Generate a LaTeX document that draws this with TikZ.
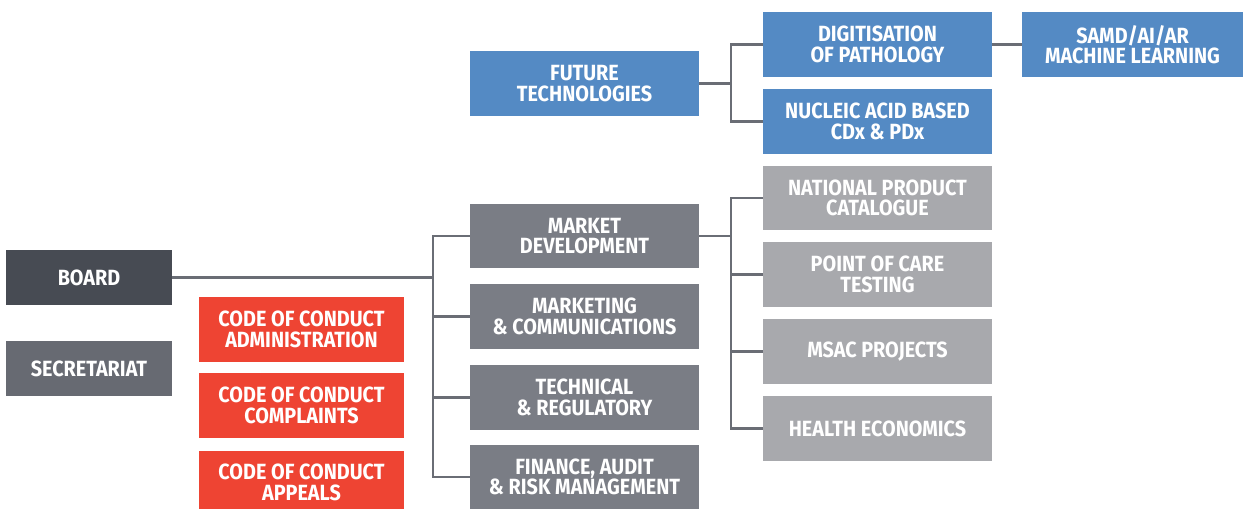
\documentclass[tikz,border=0pt]{standalone}
\usepackage{fontspec}
\setmainfont{Fira Sans}[FakeStretch=0.90]
\begin{document}
\begin{tikzpicture}[x=1pt,y=-1pt,
  box/.style={inner sep=0pt,align=center,text=white,font=\bfseries\fontsize{22}{20.5}\selectfont},
  conn/.style={draw=lineC,line width=2.6pt}]
\definecolor{boardC}{HTML}{474B53}
\definecolor{secC}{HTML}{676A72}
\definecolor{redC}{HTML}{EE4433}
\definecolor{blueC}{HTML}{548AC4}
\definecolor{grayC}{HTML}{7A7D85}
\definecolor{lgrayC}{HTML}{A8A9AD}
\definecolor{lineC}{HTML}{6A6D75}
\useasboundingbox (0,0) rectangle (1243,509);
% boxes
\fill[boardC] (6,250) rectangle (172,305);
\node[box,minimum width=166pt,minimum height=55pt] (board) at (89,277.5) {BOARD};
\fill[secC] (6,341) rectangle (172,396);
\node[box,minimum width=166pt,minimum height=55pt] (sec) at (89,368.5) {SECRETARIAT};
\fill[redC] (199,297) rectangle (404,362);
\node[box] (coca) at (301.5,329.5) {CODE OF CONDUCT\\ADMINISTRATION};
\fill[redC] (199,373) rectangle (404,438);
\node[box] (cocc) at (301.5,405.5) {CODE OF CONDUCT\\COMPLAINTS};
\fill[redC] (199,451) rectangle (404,509);
\node[box] (cocp) at (301.5,482.5) {CODE OF CONDUCT\\APPEALS};
\fill[blueC] (470,51) rectangle (699,116);
\node[box,minimum width=229pt,minimum height=65pt] (fut) at (584.5,83.5) {FUTURE\\TECHNOLOGIES};
\fill[blueC] (763,12) rectangle (992,77);
\node[box,minimum width=229pt,minimum height=65pt] (dig) at (877.5,44.5) {DIGITISATION\\OF PATHOLOGY};
\fill[blueC] (763,89) rectangle (992,154);
\node[box,minimum width=229pt,minimum height=65pt] (nuc) at (877.5,121.5) {NUCLEIC ACID BASED\\CDx \& PDx};
\fill[blueC] (1022,12) rectangle (1243,77);
\node[box,minimum width=221pt,minimum height=65pt] (samd) at (1132.5,44.5) {SAMD/AI/AR\\MACHINE LEARNING};
\fill[grayC] (470,204) rectangle (699,268);
\node[box,minimum width=229pt,minimum height=64pt] (mkt) at (584.5,236) {MARKET\\DEVELOPMENT};
\fill[grayC] (470,284) rectangle (699,349);
\node[box,minimum width=229pt,minimum height=65pt] (mc) at (584.5,316.5) {MARKETING\\\& COMMUNICATIONS};
\fill[grayC] (470,365) rectangle (699,430);
\node[box,minimum width=229pt,minimum height=65pt] (tr) at (584.5,397.5) {TECHNICAL\\\& REGULATORY};
\fill[grayC] (470,445) rectangle (699,509);
\node[box,minimum width=229pt,minimum height=64pt] (fin) at (584.5,477) {FINANCE, AUDIT\\\& RISK MANAGEMENT};
\fill[lgrayC] (763,166) rectangle (992,230);
\node[box,minimum width=229pt,minimum height=64pt] (npc) at (877.5,198) {NATIONAL PRODUCT\\CATALOGUE};
\fill[lgrayC] (763,242) rectangle (992,307);
\node[box,minimum width=229pt,minimum height=65pt] (poc) at (877.5,274.5) {POINT OF CARE\\TESTING};
\fill[lgrayC] (763,319) rectangle (992,384);
\node[box,minimum width=229pt,minimum height=65pt] (msac) at (877.5,351.5) {MSAC PROJECTS};
\fill[lgrayC] (763,396) rectangle (992,461);
\node[box,minimum width=229pt,minimum height=65pt] (he) at (877.5,428.5) {HEALTH ECONOMICS};
% connectors
\coordinate (j1) at (433,277.5);
\draw[conn] (board.east) -- (j1);
\draw[conn] (mkt.west) -| (433,477) -- (fin.west);
\draw[conn] (433,316.5) -- (mc.west);
\draw[conn] (433,397.5) -- (tr.west);
\draw[conn] (fut.east) -- (731,83.5);
\draw[conn] (dig.west) -| (731,121.5) -- (nuc.west);
\draw[conn] (dig.east) -- (samd.west);
\draw[conn] (mkt.east) -- (731,236);
\draw[conn] (npc.west) -| (731,428.5) -- (he.west);
\draw[conn] (731,274.5) -- (poc.west);
\draw[conn] (731,351.5) -- (msac.west);
\end{tikzpicture}
\end{document}
